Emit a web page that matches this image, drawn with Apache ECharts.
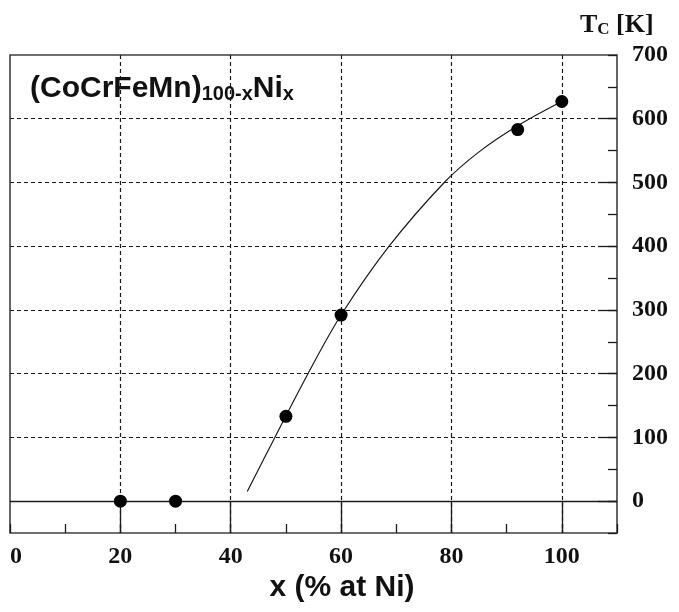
<!DOCTYPE html>
<html><head><meta charset="utf-8">
<script src="https://cdn.jsdelivr.net/npm/echarts@6/dist/echarts.min.js"></script>
<style>html,body{margin:0;padding:0;background:#fff}#c{width:679px;height:612px}</style>
</head><body><div id="c"></div>
<script>
// measured points: Ni content (at.%) vs Curie temperature (K)
const nickelPct = [20, 30, 50, 60, 92, 100];
const curieK = [0, 0, 133, 292, 583, 627];
// guide curve
const curveX = [43, 48, 54, 60, 68.7, 78.7, 85, 92, 100];
const curveY = [15, 100, 200, 292, 400, 500, 548, 589, 627];
// axis ticks / labels
const xLabelValues = [0, 20, 40, 60, 80, 100];
const xMajorTicks = [20, 40, 60, 80, 100];
const yLabelValues = [0, 100, 200, 300, 400, 500, 600, 700];
const yMajorTicks = [0, 100, 200, 300, 400, 500, 600];

const serif = '"Liberation Serif","DejaVu Serif",serif';
const sans = '"Liberation Sans",Arial,sans-serif';
const ink = '#1a1a1a';
const dashStyle = {color: ink, width: 1.2, type: [4, 3]};
const tickStyle = {color: ink, width: 1.3};
const labelStyle = {fontFamily: serif, fontWeight: 'bold', fontSize: 24, color: '#111'};

const chart = echarts.init(document.getElementById('c'), null, {renderer: 'canvas'});
const option = {
  animation: false,
  backgroundColor: '#fff',
  grid: {left: 10, right: 62, top: 55, bottom: 79, show: true, borderColor: '#404040', borderWidth: 1.6},
  xAxis: [
    {type: 'value', min: 0, max: 110, position: 'bottom',
     axisLine: {show: false, onZero: false},
     axisTick: {show: true, inside: true, length: 31, customValues: xMajorTicks, lineStyle: tickStyle},
     axisLabel: Object.assign({customValues: xLabelValues, margin: 12, alignMinLabel: 'left'}, labelStyle),
     splitLine: {show: true, lineStyle: dashStyle}},
    {type: 'value', min: 0, max: 110, interval: 10, position: 'bottom',
     axisLine: {show: false, onZero: false},
     axisTick: {show: true, inside: true, length: 9, lineStyle: tickStyle},
     axisLabel: {show: false}, splitLine: {show: false}}
  ],
  yAxis: [
    {type: 'value', min: -50, max: 700, position: 'right',
     axisLine: {show: false, onZero: false},
     axisTick: {show: true, inside: true, length: 19, customValues: yMajorTicks, lineStyle: tickStyle},
     axisLabel: Object.assign({customValues: yLabelValues, margin: 15}, labelStyle),
     splitLine: {show: true, lineStyle: dashStyle}},
    {type: 'value', min: -50, max: 700, interval: 50, position: 'right',
     axisLine: {show: false, onZero: false},
     axisTick: {show: true, inside: true, length: 9, lineStyle: tickStyle},
     axisLabel: {show: false}, splitLine: {show: false}}
  ],
  series: [
    {type: 'line', xAxisIndex: 0, yAxisIndex: 0,
     data: curveX.map((x, i) => [x, curveY[i]]),
     smooth: 0.35, showSymbol: false, symbol: 'none',
     lineStyle: {color: ink, width: 1.2},
     markLine: {silent: true, symbol: ['none', 'none'], label: {show: false},
       lineStyle: {type: 'solid', color: ink, width: 1.3}, data: [{yAxis: 0}]},
     z: 3},
    {type: 'scatter', xAxisIndex: 0, yAxisIndex: 0,
     data: nickelPct.map((x, i) => [x, curieK[i]]),
     symbol: 'circle', symbolSize: 13, itemStyle: {color: '#000', opacity: 1}, z: 5}
  ],
  graphic: [
    {type: 'text', left: 30, top: 74, z: 10,
     style: {text: '{a|(CoCrFeMn)}{b|100-x}{a|Ni}{b|x}',
       rich: {
         a: {fontFamily: sans, fontWeight: 'bold', fontSize: 30, fill: '#111', lineHeight: 33, verticalAlign: 'bottom'},
         b: {fontFamily: sans, fontWeight: 'bold', fontSize: 20, fill: '#111', lineHeight: 10, verticalAlign: 'bottom'}
       }}},
    {type: 'text', left: 580, top: 12, z: 10,
     style: {text: '{a|T}{b|C}{a| [K]}',
       rich: {
         a: {fontFamily: serif, fontWeight: 'bold', fontSize: 26, fill: '#111', lineHeight: 28, verticalAlign: 'bottom'},
         b: {fontFamily: serif, fontWeight: 'bold', fontSize: 17, fill: '#111', lineHeight: 10, verticalAlign: 'bottom'}
       }}},
    {type: 'text', x: 342, y: 588, z: 10,
     style: {text: 'x (% at Ni)', fontFamily: sans, fontWeight: 'bold', fontSize: 30, fill: '#111',
       align: 'center', verticalAlign: 'middle'}}
  ]
};
chart.setOption(option);
</script></body></html>
